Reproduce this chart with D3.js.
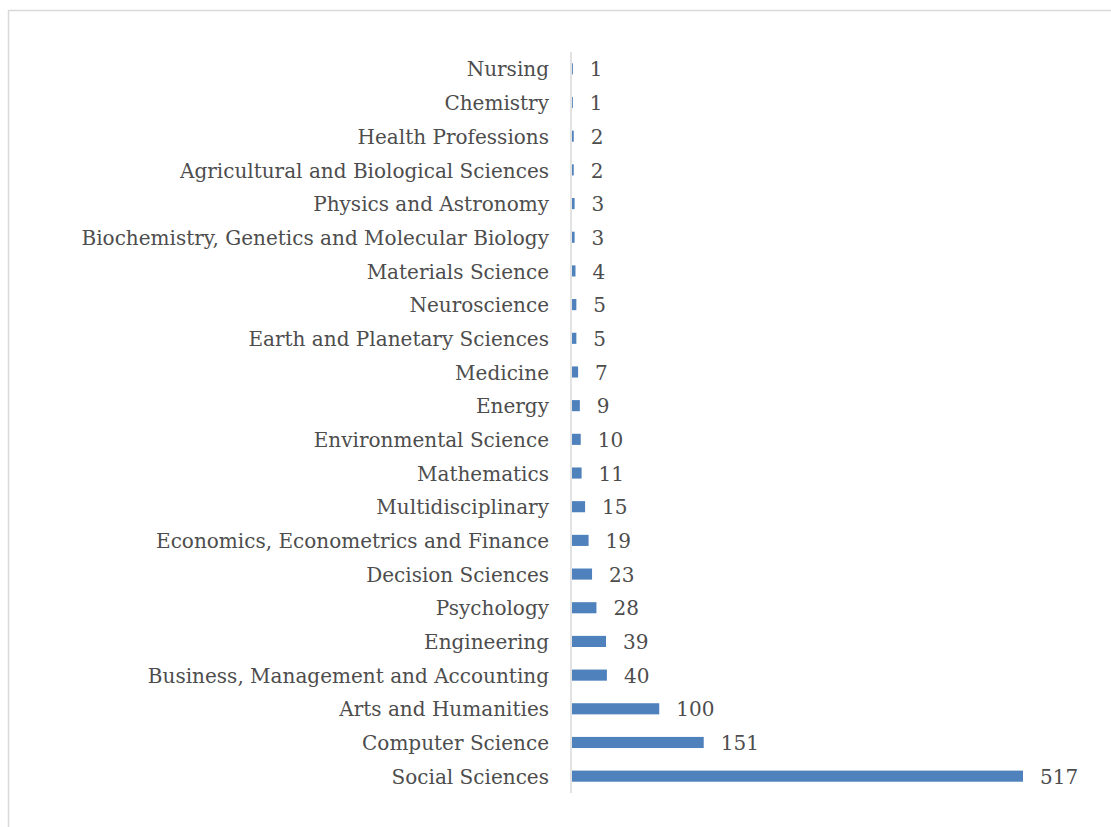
<!DOCTYPE html>
<html><head><meta charset="utf-8">
<script src="https://cdn.jsdelivr.net/npm/d3@7"></script>
<style>body{margin:0;background:#fff}svg{display:block}</style>
</head><body>
<svg id="c" width="1111" height="827"></svg>
<script>
const categories = ["Nursing","Chemistry","Health Professions","Agricultural and Biological Sciences","Physics and Astronomy","Biochemistry, Genetics and Molecular Biology","Materials Science","Neuroscience","Earth and Planetary Sciences","Medicine","Energy","Environmental Science","Mathematics","Multidisciplinary","Economics, Econometrics and Finance","Decision Sciences","Psychology","Engineering","Business, Management and Accounting","Arts and Humanities","Computer Science","Social Sciences"];
const values = [1,1,2,2,3,3,4,5,5,7,9,10,11,15,19,23,28,39,40,100,151,517];

const svg = d3.select("#c");
const font = "DejaVu Serif";
svg.append("rect").attr("x",8.5).attr("y",10.5).attr("width",1200).attr("height",900)
  .attr("fill","none").attr("stroke","#d9d9d9").attr("stroke-width",1.5);

const x = d3.scaleLinear().domain([0,517]).range([572,1023]);
const y = d3.scaleBand().domain(categories).range([52,793]).paddingInner(0.67).paddingOuter(0.335);

svg.append("g").selectAll("rect").data(values).join("rect")
  .attr("x",x(0)).attr("y",(d,i)=>y(categories[i]))
  .attr("width",d=>x(d)-x(0)).attr("height",y.bandwidth())
  .attr("fill","#4f81bd");

svg.append("line").attr("x1",571).attr("x2",571).attr("y1",52).attr("y2",793)
  .attr("stroke","#d9d9d9").attr("stroke-width",1.5);

// measure to fit
const probe = svg.append("text").attr("font-family",font).attr("font-size",20).text(categories[5]);
const w = probe.node().getComputedTextLength();
probe.remove();
const fs = 20*468/w;

svg.append("g").selectAll("text").data(categories).join("text")
  .attr("x",549).attr("y",d=>y(d)+y.bandwidth()/2).attr("dy","0.38em")
  .attr("text-anchor","end").attr("font-family",font).attr("font-size",fs)
  .attr("fill","#4d4d4d").text(d=>d);

svg.append("g").selectAll("text").data(values).join("text")
  .attr("x",d=>x(d)+17).attr("y",(d,i)=>y(categories[i])+y.bandwidth()/2).attr("dy","0.38em")
  .attr("font-family",font).attr("font-size",fs)
  .attr("fill","#4d4d4d").text(d=>d);
</script>
</body></html>
